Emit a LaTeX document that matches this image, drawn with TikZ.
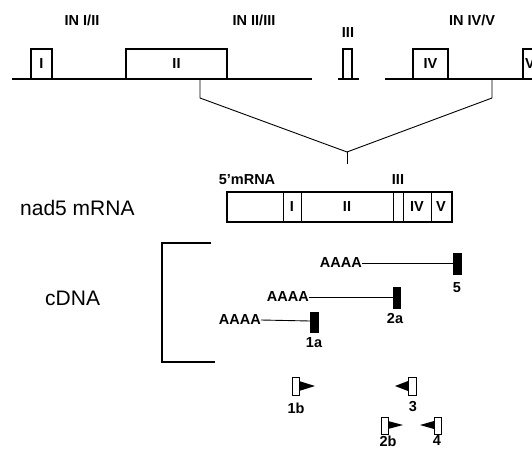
\documentclass[tikz,border=0pt]{standalone}
\usepackage{fontspec}
\setmainfont{Liberation Sans}
\begin{document}
\begin{tikzpicture}[x=1pt,y=-1pt,
  ln/.style={line width=1.3pt},
  thin/.style={line width=0.9pt},
  ex/.style={draw,line width=1.3pt},
  lbl/.style={font=\bfseries\fontsize{14.5}{14.5}\selectfont,inner sep=0pt},
  big/.style={font=\fontsize{21}{21}\selectfont,inner sep=0pt},
  blk/.style={fill=black,draw=black},
  tri/.style={fill=black}]
\useasboundingbox (0,0) rectangle (532,454);
% genomic line
\draw[ln] (12,79) -- (312,79);
\draw[ln] (338,79) -- (359,79);
\draw[ln] (385,79) -- (532,79);
% exons
\draw[ex,fill=white] (31,79) rectangle (52,49) node[midway,lbl] (e1) {I};
\draw[ex,fill=white] (126,79) rectangle (227,49) node[midway,lbl] (e2) {II};
\draw[ex,fill=white] (343,79) rectangle (352,49);
\draw[ex,fill=white] (413,79) rectangle (448,49) node[midway,lbl] (e4) {IV};
\draw[ex,fill=white] (523,79) rectangle (534,49) node[midway,lbl,anchor=west,xshift=-4pt] (e5) {V};
% top labels
\node[lbl] (in12) at (82,20) {IN I/II};
\node[lbl] (in23) at (254,20) {IN II/III};
\node[lbl] (l3) at (348,33) {III};
\node[lbl] (in45) at (472,20) {IN IV/V};
% funnel
\coordinate (fl) at (200,79);
\coordinate (fr) at (492,79);
\coordinate (ap) at (347,152);
\coordinate (apb) at (347,164);
\draw[thin] (fl) -- (200,98) -- (ap) -- (492,98) -- (fr);
\draw[thin] (ap) -- (apb);
% mRNA
\node[big,anchor=west] (nad) at (20,208) {nad5 mRNA};
\node[lbl] (m5) at (247,180) {5'mRNA};
\node[lbl] (m3) at (398,180) {III};
\draw[ex] (227,192) rectangle (452,222);
\foreach \x in {283,301,393,403,431} \draw[line width=1pt] (\x,192) -- (\x,222);
\node[lbl] (mI) at (292,207) {I};
\node[lbl] (mII) at (347,207) {II};
\node[lbl] (mIV) at (417,207) {IV};
\node[lbl] (mV) at (441,207) {V};
% cDNA
\node[big,anchor=west] (cd) at (45,298) {cDNA};
\draw[ln] (211,243) -- (162,243) -- (162,362) -- (215,362);
% clones
\node[lbl,anchor=east] (a5) at (362,263) {AAAA};
\draw[blk] (453,253) rectangle (461,274);
\draw[thin] (a5.east) -- (453,263);
\node[lbl] (n5) at (457,288) {5};
\node[lbl,anchor=east] (a2) at (309,297) {AAAA};
\draw[blk] (393,287) rectangle (400,308);
\draw[thin] (a2.east) -- (393,297);
\node[lbl] (n2a) at (395,319) {2a};
\node[lbl,anchor=east] (a1) at (261,320) {AAAA};
\draw[blk] (310,312) rectangle (318,332);
\draw[thin] (a1.east) -- (310,321);
\node[lbl] (n1a) at (314,343) {1a};
% primers
\draw[line width=1pt] (292,377) rectangle (299,395);
\fill[tri] (299,381) -- (315,386) -- (299,391) -- cycle;
\node[lbl] (p1b) at (296,408) {1b};
\draw[line width=1pt] (408,377) rectangle (416,395);
\fill[tri] (408,381) -- (395,386) -- (408,391) -- cycle;
\node[lbl] (p3) at (413,407) {3};
\draw[line width=1pt] (381,417) rectangle (388,434);
\fill[tri] (388,421) -- (403,425) -- (388,429) -- cycle;
\node[lbl] (p2b) at (388,441) {2b};
\draw[line width=1pt] (434,417) rectangle (441,434);
\fill[tri] (434,421) -- (420,425) -- (434,429) -- cycle;
\node[lbl] (p4) at (437,441) {4};
\end{tikzpicture}
\end{document}
